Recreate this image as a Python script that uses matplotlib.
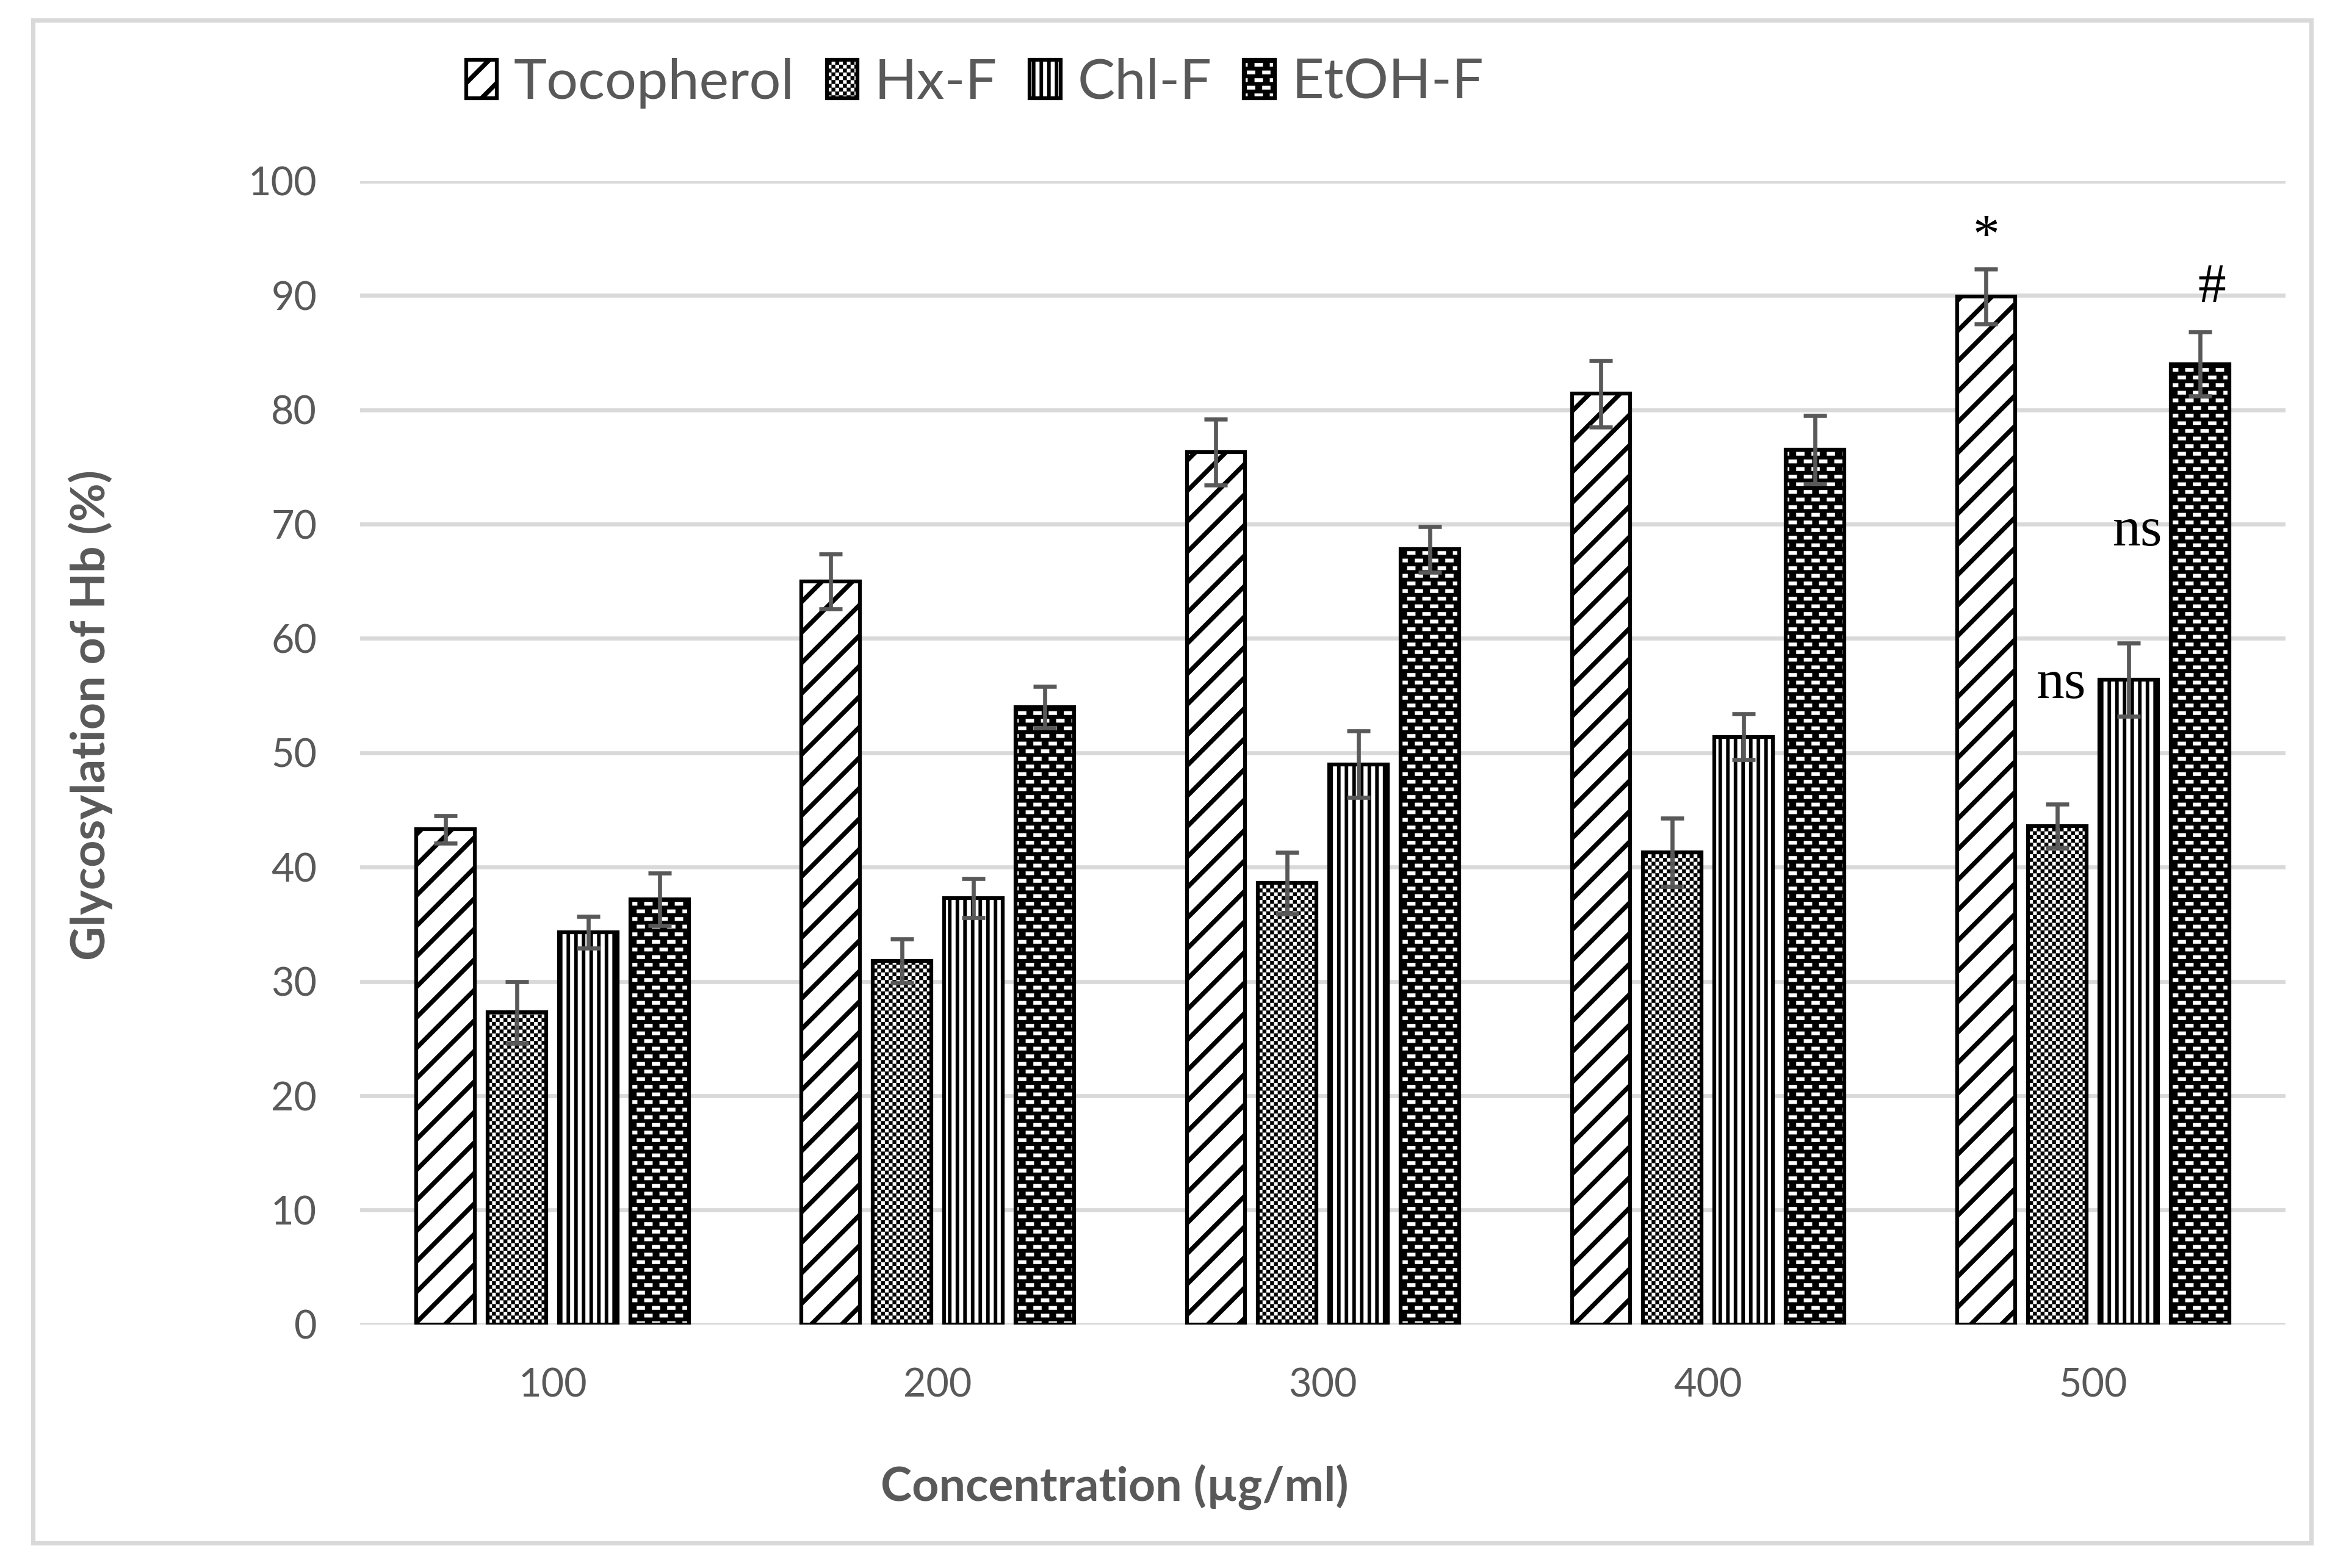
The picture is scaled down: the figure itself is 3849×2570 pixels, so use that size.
import matplotlib
matplotlib.use("Agg")
import matplotlib.pyplot as plt
import numpy as np
from matplotlib.patches import Rectangle
from matplotlib.legend_handler import HandlerTuple
from matplotlib.path import Path
import matplotlib.hatch as mhatch

categories = ["100", "200", "300", "400", "500"]
series = ["Tocopherol", "Hx-F", "Chl-F", "EtOH-F"]
tocopherol = [43.3, 65.0, 76.3, 81.4, 89.9]
tocopherol_err = [1.2, 2.4, 2.9, 2.9, 2.4]
hxf = [27.3, 31.8, 38.6, 41.3, 43.6]
hxf_err = [2.7, 1.9, 2.7, 3.0, 1.9]
chlf = [34.3, 37.3, 49.0, 51.4, 56.4]
chlf_err = [1.4, 1.7, 2.9, 2.0, 3.2]
etohf = [37.2, 54.0, 67.8, 76.5, 84.0]
etohf_err = [2.3, 1.8, 2.0, 3.0, 2.8]
yticks = [0, 10, 20, 30, 40, 50, 60, 70, 80, 90, 100]

GRAY = "#595959"

# ---- custom hatch patterns: checkerboard ('*') and staggered dashes ('O') ----
CUSTOM = False
try:
    _SQ = np.array([[0, 0], [1, 0], [1, 1], [0, 1], [0, 0]], dtype=float)
    _SQC = np.array([Path.MOVETO, Path.LINETO, Path.LINETO, Path.LINETO, Path.CLOSEPOLY])

    class CheckerHatch(mhatch.HatchPatternBase):
        def __init__(self, hatch, density):
            self.N = hatch.count('*') * int(density) * 8
            self.num_vertices = (self.N * self.N // 2) * 5 if self.N else 0

        def set_vertices_and_codes(self, vertices, codes):
            N = self.N
            c = 1.0 / N
            ii, jj = np.meshgrid(np.arange(N), np.arange(N), indexing='ij')
            m = (ii + jj) % 2 == 0
            org = np.stack([ii[m] * c, jj[m] * c], axis=1)
            v = (_SQ[None, :, :] * c + org[:, None, :]).reshape(-1, 2)
            vertices[:] = v
            codes[:] = np.tile(_SQC, len(org))

    class DashHatch(mhatch.HatchPatternBase):
        def __init__(self, hatch, density):
            self.N = hatch.count('O') * int(density) * 2
            if self.N:
                self.nshapes = (self.N + 2) * (2 * self.N)
                self.num_vertices = self.nshapes * 5
            else:
                self.num_vertices = 0

        def set_vertices_and_codes(self, vertices, codes):
            N = self.N
            P = 1.0 / N
            w, h = 0.54 * P, 0.24 * P
            orgs = []
            for j in range(2 * N):
                for i in range(-1, N + 1):
                    xc = (i + 0.5 * (j % 2)) * P
                    yc = (j + 0.5) * P / 2
                    orgs.append((xc - w / 2, yc - h / 2))
            orgs = np.array(orgs)
            rect = _SQ * np.array([w, h])
            v = (rect[None, :, :] + orgs[:, None, :]).reshape(-1, 2)
            vertices[:] = v
            codes[:] = np.tile(_SQC, len(orgs))

    mhatch._hatch_types[:] = [t for t in mhatch._hatch_types
                              if t not in (mhatch.Stars, mhatch.LargeCircles)]
    mhatch._hatch_types.extend([CheckerHatch, DashHatch])
    CUSTOM = True
except Exception:
    CUSTOM = False

HX_HATCH = "*" if CUSTOM else "xxxx"
ET_HATCH = "O" if CUSTOM else "--"
HATCH_LW = {"//": 1.8, "||||": 1.4, HX_HATCH: 0.05 if CUSTOM else 0.8,
            ET_HATCH: 0.05 if CUSTOM else 1.3}

plt.rcParams['font.family'] = ['Lato', 'DejaVu Sans']
plt.rcParams['hatch.linewidth'] = 0.05 if CUSTOM else 1.5

fig = plt.figure(figsize=(3849 / 300, 2570 / 300), dpi=300)
ax = fig.add_axes([0.1533, 0.1553, 0.8197, 0.7292])

x = np.arange(len(categories))
offsets = [-0.2775, -0.0925, 0.0925, 0.2775]
width = 0.152


def fix_hatch_lw(patches):
    for p in patches:
        h = p.get_hatch()
        if h and hasattr(p, "set_hatch_linewidth") and h in HATCH_LW:
            p.set_hatch_linewidth(HATCH_LW[h])


vals = [tocopherol, hxf, chlf, etohf]
errs = [tocopherol_err, hxf_err, chlf_err, etohf_err]
EDGE = 1.5

b0 = ax.bar(x + offsets[0], tocopherol, width, facecolor="white", edgecolor="black",
            linewidth=EDGE, hatch="//", zorder=3)
b1 = ax.bar(x + offsets[1], hxf, width, facecolor="white", edgecolor="black",
            linewidth=EDGE, hatch=HX_HATCH, zorder=3)
b2 = ax.bar(x + offsets[2], chlf, width, facecolor="white", edgecolor="black",
            linewidth=EDGE, hatch="||||", zorder=3)
b3a = ax.bar(x + offsets[3], etohf, width, facecolor="black", edgecolor="white",
             linewidth=0, hatch=ET_HATCH, zorder=3)
b3b = ax.bar(x + offsets[3], etohf, width, facecolor="none", edgecolor="black",
             linewidth=EDGE, zorder=3.1)
for bc in (b0, b1, b2, b3a):
    fix_hatch_lw(bc)

for k in range(4):
    ax.errorbar(x + offsets[k], vals[k], yerr=errs[k], fmt="none", ecolor=GRAY,
                elinewidth=1.6, capsize=4.6, capthick=1.6, zorder=4)

ax.set_xlim(-0.5, 4.5)
ax.set_ylim(0, 100)
ax.set_yticks(yticks)
ax.set_xticks(x)
ax.set_xticklabels(categories)
ax.grid(axis="y", color="#d9d9d9", linewidth=1.6, zorder=0)
ax.set_axisbelow(True)
for s in ax.spines.values():
    s.set_visible(False)
ax.tick_params(axis="both", length=0, colors=GRAY, labelsize=15.5)
ax.tick_params(axis="y", pad=17)
ax.tick_params(axis="x", pad=17)

# significance annotations
serif = ['Liberation Serif', 'DejaVu Serif']
ax.text(3.722, 95.0, "*", ha="center", va="center", fontsize=21, family=serif, color="black")
ax.text(4.309, 90.6, "#", ha="center", va="center", fontsize=22, family=serif, color="black")
ax.text(3.917, 56.0, "ns", ha="center", va="center", fontsize=22, family=serif, color="black")
ax.text(4.116, 69.3, "ns", ha="center", va="center", fontsize=22, family=serif, color="black")

fig.text(0.0385, 0.544, "Glycosylation of Hb (%)", rotation=90, ha="center", va="center",
         fontsize=18.5, fontweight="bold", color=GRAY)
fig.text(0.4744, 0.0517, "Concentration (µg/ml)", ha="center", va="center",
         fontsize=18.5, fontweight="bold", color=GRAY)

handles = [b0[0], b1[0], b2[0], (b3a[0], b3b[0])]
leg = fig.legend(handles, series, loc="center", bbox_to_anchor=(0.415, 0.947), ncol=4,
                 frameon=False, fontsize=22, handlelength=0.55, handleheight=0.68,
                 handletextpad=0.3, columnspacing=0.58, labelcolor=GRAY,
                 handler_map={tuple: HandlerTuple(ndivide=1, pad=0)})
fix_hatch_lw(leg.findobj(Rectangle))

fig.patches.append(Rectangle((0.01403, 0.01595), 0.98389 - 0.01403, 0.98716 - 0.01595,
                             transform=fig.transFigure, fill=False,
                             edgecolor="#d9d9d9", linewidth=1.7))

fig.savefig("out.png", dpi=300)
